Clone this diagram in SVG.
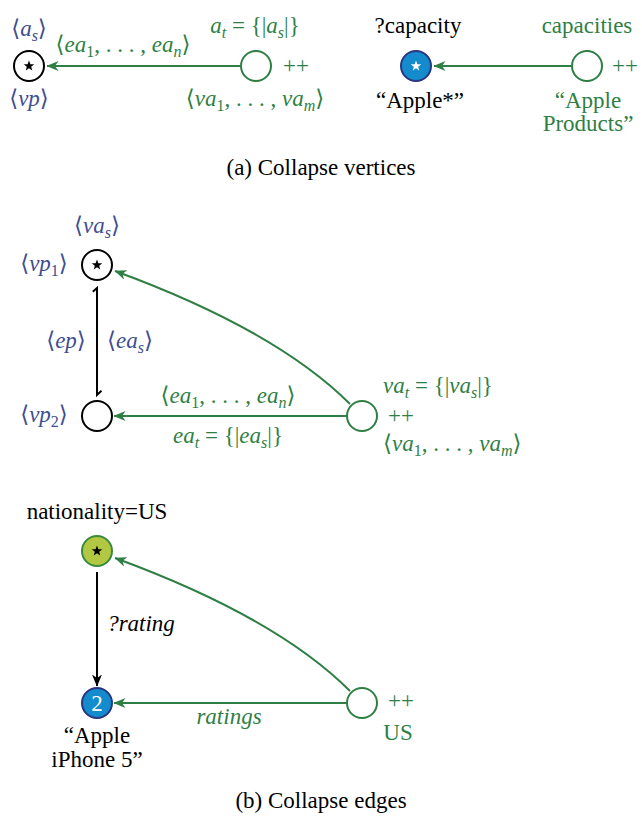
<svg xmlns="http://www.w3.org/2000/svg" width="642" height="818" viewBox="0 0 642 818">
<style>
text{font-family:'Liberation Serif','Times New Roman',Tinos,'DejaVu Serif',serif;font-size:23px}
.g{fill:#2f7f45}
.b{fill:#3f4d92}
.k{fill:#000}
.i{font-style:italic}
.s{font-size:16px}
.m{text-anchor:middle}
.ng{fill:none;stroke:#2f7f45;stroke-width:2}
.nk{fill:none;stroke:#000;stroke-width:2}
.eg{fill:none;stroke:#2f7f45;stroke-width:2}
.ek{fill:none;stroke:#000;stroke-width:2}
</style>
<defs>
<marker id="ag" viewBox="0 0 12 10" refX="11.5" refY="5" markerWidth="12" markerHeight="10" markerUnits="userSpaceOnUse" orient="auto"><path d="M0,0 L12,5 L0,10 L3.5,5 Z" fill="#2f7f45"/></marker>
<marker id="ak" viewBox="0 0 12 10" refX="11.5" refY="5" markerWidth="12" markerHeight="10" markerUnits="userSpaceOnUse" orient="auto"><path d="M0,0 L12,5 L0,10 L3.5,5 Z" fill="#000"/></marker>
<polygon id="star" points="0,-5.5 1.4,-1.8 5.2,-1.7 2.2,0.7 3.2,4.4 0,2.3 -3.2,4.4 -2.2,0.7 -5.2,-1.7 -1.4,-1.8"/>
</defs>

<g id="connectors">
<path class="eg" d="M240,66 L47,66" marker-end="url(#ag)"/>
<path class="eg" d="M571,66 L434,66" marker-end="url(#ag)"/>
<path class="eg" d="M350,404 Q276,330 115,271" marker-end="url(#ag)"/>
<path class="eg" d="M346,416 L114,416" marker-end="url(#ag)"/>
<path class="ek" d="M92.8,291.8 L97,288 L97,395 L101.5,390.8"/>
<path class="eg" d="M350,691 Q276,617 115,558" marker-end="url(#ag)"/>
<path class="eg" d="M346,703 L114,703" marker-end="url(#ag)"/>
<path class="ek" d="M97,572 L97,686" marker-end="url(#ak)"/>
</g>

<g id="a-source">
<circle class="nk" cx="29" cy="66" r="15"/>
<use href="#star" x="29" y="66" fill="#000"/>
<text class="b m" x="29" y="36">⟨<tspan class="i">a</tspan><tspan class="i s" dy="5">s</tspan><tspan dy="-5">⟩</tspan></text>
<text class="b m" x="29" y="106">⟨<tspan class="i">vp</tspan>⟩</text>
</g>
<g id="a-target">
<circle class="ng" cx="256" cy="66" r="15"/>
<text class="g" x="283" y="73">++</text>
<text class="g m" x="255" y="33"><tspan class="i">a</tspan><tspan class="i s" dy="5">t</tspan><tspan dy="-5"> = {|</tspan><tspan class="i">a</tspan><tspan class="i s" dy="5">s</tspan><tspan dy="-5">|}</tspan></text>
<text class="g m" x="255" y="106">⟨<tspan class="i">va</tspan><tspan class="s" dy="5">1</tspan><tspan dy="-5">, . . . , </tspan><tspan class="i">va</tspan><tspan class="i s" dy="5">m</tspan><tspan dy="-5">⟩</tspan></text>
</g>
<text class="g m" x="123" y="52">⟨<tspan class="i">ea</tspan><tspan class="s" dy="5">1</tspan><tspan dy="-5">, . . . , </tspan><tspan class="i">ea</tspan><tspan class="i s" dy="5">n</tspan><tspan dy="-5">⟩</tspan></text>

<g id="a2-source">
<circle cx="416" cy="66" r="15" fill="#138bcc" stroke="#2b3582" stroke-width="2"/>
<use href="#star" x="416" y="66" fill="#fff"/>
<text class="k m" x="418" y="33">?capacity</text>
<text class="k m" x="420" y="108">“Apple*”</text>
</g>
<g id="a2-target">
<circle class="ng" cx="587" cy="66" r="15"/>
<text class="g" x="612" y="73">++</text>
<text class="g m" x="587" y="33">capacities</text>
<text class="g m" x="588" y="108">“Apple</text>
<text class="g m" x="588" y="131">Products”</text>
</g>

<text class="k m" x="321" y="175">(a) Collapse vertices</text>

<g id="b-vp1">
<circle class="nk" cx="97" cy="265" r="15"/>
<use href="#star" x="97" y="265" fill="#000"/>
<text class="b m" x="97" y="233">⟨<tspan class="i">va</tspan><tspan class="i s" dy="5">s</tspan><tspan dy="-5">⟩</tspan></text>
<text class="b m" x="44" y="271">⟨<tspan class="i">vp</tspan><tspan class="s" dy="5">1</tspan><tspan dy="-5">⟩</tspan></text>
</g>
<text class="b m" x="66" y="348">⟨<tspan class="i">ep</tspan>⟩</text>
<text class="b m" x="130" y="348">⟨<tspan class="i">ea</tspan><tspan class="i s" dy="5">s</tspan><tspan dy="-5">⟩</tspan></text>
<g id="b-vp2">
<circle class="nk" cx="97" cy="416" r="15"/>
<text class="b m" x="44" y="422">⟨<tspan class="i">vp</tspan><tspan class="s" dy="5">2</tspan><tspan dy="-5">⟩</tspan></text>
</g>
<text class="g m" x="228" y="403">⟨<tspan class="i">ea</tspan><tspan class="s" dy="5">1</tspan><tspan dy="-5">, . . . , </tspan><tspan class="i">ea</tspan><tspan class="i s" dy="5">n</tspan><tspan dy="-5">⟩</tspan></text>
<text class="g m" x="228" y="443"><tspan class="i">ea</tspan><tspan class="i s" dy="5">t</tspan><tspan dy="-5"> = {|</tspan><tspan class="i">ea</tspan><tspan class="i s" dy="5">s</tspan><tspan dy="-5">|}</tspan></text>
<g id="b-target">
<circle class="ng" cx="362" cy="416" r="15"/>
<text class="g" x="383" y="393"><tspan class="i">va</tspan><tspan class="i s" dy="5">t</tspan><tspan dy="-5"> = {|</tspan><tspan class="i">va</tspan><tspan class="i s" dy="5">s</tspan><tspan dy="-5">|}</tspan></text>
<text class="g" x="388" y="423">++</text>
<text class="g" x="383" y="451">⟨<tspan class="i">va</tspan><tspan class="s" dy="5">1</tspan><tspan dy="-5">, . . . , </tspan><tspan class="i">va</tspan><tspan class="i s" dy="5">m</tspan><tspan dy="-5">⟩</tspan></text>
</g>

<g id="b2-source">
<circle cx="97" cy="551" r="15" fill="#b2c843" stroke="#3a8a3e" stroke-width="2"/>
<use href="#star" x="97" y="551" fill="#000"/>
<text class="k m" x="97" y="519">nationality=US</text>
</g>
<text class="k i m" x="141" y="631">?rating</text>
<g id="b2-object">
<circle cx="97" cy="703" r="15" fill="#138bcc" stroke="#2b3582" stroke-width="2"/>
<text class="m" x="97" y="711" fill="#fff">2</text>
<text class="k m" x="97" y="743">“Apple</text>
<text class="k m" x="97" y="767">iPhone 5”</text>
</g>
<text class="g i m" x="229" y="724">ratings</text>
<g id="b2-target">
<circle class="ng" cx="362" cy="703" r="15"/>
<text class="g" x="388" y="708">++</text>
<text class="g m" x="398" y="740">US</text>
</g>

<text class="k m" x="321" y="808">(b) Collapse edges</text>
</svg>
